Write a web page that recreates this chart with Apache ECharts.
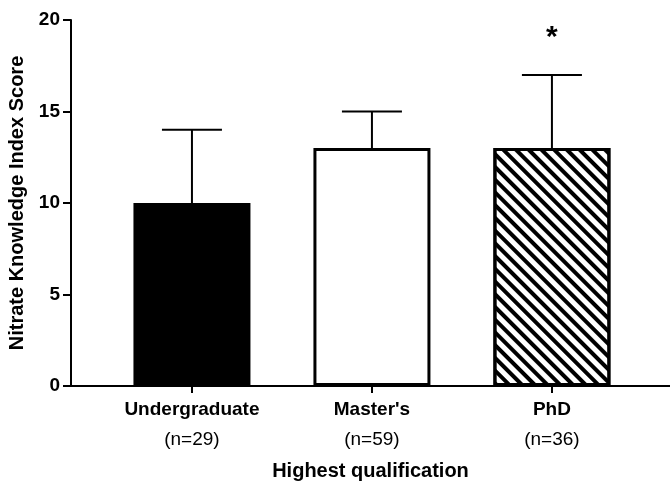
<!DOCTYPE html>
<html><head><meta charset="utf-8">
<script src="https://cdn.jsdelivr.net/npm/echarts@6/dist/echarts.min.js"></script>
<style>html,body{margin:0;padding:0;background:#fff}#c{width:670px;height:483px}</style>
</head><body><div id="c"></div>
<script>
const categories = ["Undergraduate", "Master's", "PhD"];
const sampleSizes = ["(n=29)", "(n=59)", "(n=36)"];
const meanScores = [10, 13, 13];
const upperErrors = [4, 2, 4];
const significance = ["", "", "*"];
const yTicks = [0, 5, 10, 15, 20];

const FONT = "'Liberation Sans', Arial, sans-serif";
const fills = [
  { color: '#000', borderColor: '#000', borderWidth: 3 },
  { color: '#fff', borderColor: '#000', borderWidth: 3 },
  { color: '#fff', borderColor: '#000', borderWidth: 3,
    decal: { symbol: 'rect', symbolSize: 1, color: '#000', dashArrayX: [1, 0], dashArrayY: [3.5, 5], rotation: Math.PI / 4 } }
];
const idx = categories.map((_, i) => i);

const chart = echarts.init(document.getElementById('c'), null, { renderer: 'canvas' });
chart.setOption({
  backgroundColor: '#fff',
  animation: false,
  grid: { left: 71, right: 0, top: 20, bottom: 97, outerBoundsMode: 'none', containLabel: false },
  xAxis: {
    type: 'value', min: -0.672, max: 2.656,
    splitLine: { show: false },
    axisLine: { show: true, onZero: false, lineStyle: { color: '#000', width: 2 } },
    axisTick: { show: true, customValues: idx, length: 7, lineStyle: { color: '#000', width: 2 } },
    axisLabel: {
      customValues: idx, margin: 9,
      formatter: v => '{a|' + categories[Math.round(v)] + '}\n{b|' + sampleSizes[Math.round(v)] + '}',
      rich: {
        a: { fontFamily: FONT, fontWeight: 'bold', fontSize: 19, color: '#000', lineHeight: 30 },
        b: { fontFamily: FONT, fontSize: 19, color: '#000', lineHeight: 30 }
      }
    },
    name: 'Highest qualification', nameLocation: 'middle', nameGap: 75,
    nameTextStyle: { fontFamily: FONT, fontWeight: 'bold', fontSize: 20, color: '#000' }
  },
  yAxis: {
    type: 'value', min: yTicks[0], max: yTicks[yTicks.length - 1], interval: 5,
    splitLine: { show: false },
    axisLine: { show: true, onZero: false, lineStyle: { color: '#000', width: 2 } },
    axisTick: { show: true, length: 8, lineStyle: { color: '#000', width: 2 } },
    axisLabel: { margin: 11, fontFamily: FONT, fontWeight: 'bold', fontSize: 19, color: '#000' },
    name: 'Nitrate Knowledge Index Score', nameLocation: 'middle', nameGap: 41, nameRotate: 90,
    nameTextStyle: { fontFamily: FONT, fontWeight: 'bold', fontSize: 20, color: '#000' }
  },
  series: [
    {
      type: 'bar', barWidth: 117,
      data: meanScores.map((v, i) => ({ value: [i, v], itemStyle: fills[i] }))
    },
    {
      type: 'custom', z: 5,
      data: meanScores.map((v, i) => [i, v, v + upperErrors[i]]),
      renderItem: (params, api) => {
        const i = api.value(0);
        const p0 = api.coord([i, api.value(1)]);
        const p1 = api.coord([i, api.value(2)]);
        const half = 30;
        const children = [
          { type: 'line', shape: { x1: p0[0], y1: p0[1], x2: p1[0], y2: p1[1] }, style: { stroke: '#000', lineWidth: 2 } },
          { type: 'line', shape: { x1: p1[0] - half, y1: p1[1], x2: p1[0] + half, y2: p1[1] }, style: { stroke: '#000', lineWidth: 2 } }
        ];
        const s = significance[params.dataIndex];
        if (s) {
          children.push({ type: 'text', style: { text: s, x: p1[0], y: p1[1] - 37, align: 'center', verticalAlign: 'middle',
            font: 'bold 30px ' + FONT, fill: '#000' } });
        }
        return { type: 'group', children };
      }
    }
  ]
});
</script></body></html>
